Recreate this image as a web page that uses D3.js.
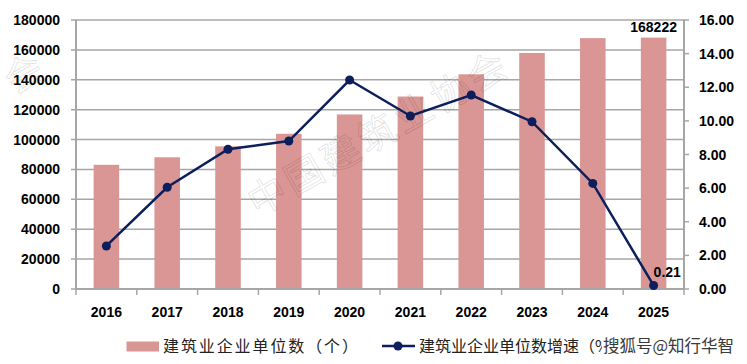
<!DOCTYPE html>
<html><head><meta charset="utf-8">
<script src="https://cdn.jsdelivr.net/npm/d3@7"></script>
<style>
html,body{margin:0;padding:0;background:#fff;}
svg{display:block;}
.num{font-family:"Liberation Sans",Arial,sans-serif;font-weight:bold;font-size:14px;fill:#000;}
.cjk{font-family:"Noto Sans CJK SC",sans-serif;font-size:16px;fill:#222;}
</style></head>
<body>
<svg id="c" width="747" height="364"></svg>
<script>
const years = ["2016","2017","2018","2019","2020","2021","2022","2023","2024","2025"];
const units = [83110, 88140, 95470, 103870, 116780, 128790, 143660, 157950, 167870, 168222];
const growth = [2.56, 6.05, 8.31, 8.80, 12.43, 10.29, 11.54, 9.95, 6.28, 0.21];
const leftTicks = [0,20000,40000,60000,80000,100000,120000,140000,160000,180000];
const rightTicks = [0,2,4,6,8,10,12,14,16];
const barName = "建筑业企业单位数（个）";
const lineName = "建筑业企业单位数增速（%）";
const watermark = "中国建筑业协会";
const sohu = "搜狐号@知行华智";

const svg = d3.select("#c");
const L = 76, R = 684, T = 20, B = 289;
const gridC = "#a6a6a6", barC = "#d99694", lineC = "#0c1f5c";

const x = d3.scaleBand().domain(years).range([L, R]).paddingInner(0.58).paddingOuter(0.29);
const yL = d3.scaleLinear().domain([0, 180000]).range([B, T]);
const yR = d3.scaleLinear().domain([0, 16]).range([B, T]);
const step = x.step();

// gridlines
svg.append("g").selectAll("line").data(leftTicks).join("line")
  .attr("x1", L - 5).attr("x2", R).attr("y1", d => yL(d)).attr("y2", d => yL(d))
  .attr("stroke", gridC).attr("stroke-width", 1.5);

// left axis labels
svg.append("g").selectAll("text").data(leftTicks).join("text")
  .attr("class", "num").attr("text-anchor", "end")
  .attr("x", 60).attr("y", d => yL(d) + 5).text(d => d);

// right axis
svg.append("g").selectAll("line").data(rightTicks).join("line")
  .attr("x1", R).attr("x2", R + 5).attr("y1", d => yR(d)).attr("y2", d => yR(d))
  .attr("stroke", gridC).attr("stroke-width", 1.5);
svg.append("g").selectAll("text").data(rightTicks).join("text")
  .attr("class", "num").attr("text-anchor", "start")
  .attr("x", 699).attr("y", d => yR(d) + 5).text(d => d.toFixed(2));

// bars
svg.append("g").selectAll("rect").data(years).join("rect")
  .attr("x", d => x(d)).attr("width", x.bandwidth())
  .attr("y", (d, i) => yL(units[i])).attr("height", (d, i) => B - yL(units[i]))
  .attr("fill", barC);

// axis lines
svg.append("line").attr("x1", L).attr("x2", L).attr("y1", T).attr("y2", B)
  .attr("stroke", gridC).attr("stroke-width", 2);
svg.append("line").attr("x1", R).attr("x2", R).attr("y1", T).attr("y2", B)
  .attr("stroke", gridC).attr("stroke-width", 2);
svg.append("line").attr("x1", L).attr("x2", R).attr("y1", B).attr("y2", B)
  .attr("stroke", gridC).attr("stroke-width", 2);

// x ticks at band boundaries
const bounds = years.map(d => x(d) - (step - x.bandwidth()) / 2).concat([R]);
svg.append("g").selectAll("line").data(bounds).join("line")
  .attr("x1", d => d).attr("x2", d => d).attr("y1", B).attr("y2", B + 6)
  .attr("stroke", gridC).attr("stroke-width", 1.5);

// x labels
svg.append("g").selectAll("text").data(years).join("text")
  .attr("class", "num").attr("text-anchor", "middle")
  .attr("x", d => x(d) + x.bandwidth() / 2).attr("y", 317).text(d => d);

// line
const cx = d => x(d) + x.bandwidth() / 2;
svg.append("path").datum(years)
  .attr("d", d3.line().x(d => cx(d)).y((d, i) => yR(growth[i])))
  .attr("fill", "none").attr("stroke", lineC).attr("stroke-width", 2.5);
svg.append("g").selectAll("circle").data(years).join("circle")
  .attr("cx", d => cx(d)).attr("cy", (d, i) => yR(growth[i])).attr("r", 4.5)
  .attr("fill", lineC);

// data labels
const last = years.length - 1;
svg.append("text").attr("class", "num").attr("text-anchor", "middle")
  .attr("x", cx(years[last])).attr("y", yL(units[last]) - 6).text(units[last]);
svg.append("text").attr("class", "num").attr("text-anchor", "start")
  .attr("x", cx(years[last])).attr("y", yR(growth[last]) - 8).text(growth[last].toFixed(2));

// legend
svg.append("rect").attr("x", 126.5).attr("y", 341.5).attr("width", 32.5).attr("height", 10).attr("fill", barC);
svg.append("text").attr("class", "cjk").attr("x", 163).attr("y", 352)
  .style("letter-spacing", "1.9px").text(barName);
svg.append("line").attr("x1", 382).attr("x2", 415).attr("y1", 346).attr("y2", 346)
  .attr("stroke", lineC).attr("stroke-width", 2.5);
svg.append("circle").attr("cx", 398).attr("cy", 346).attr("r", 4.5).attr("fill", lineC);
svg.append("text").attr("class", "cjk").attr("x", 419).attr("y", 352).text(lineName);

// sohu watermark (overlaps the end of the legend, as in the reference)
svg.append("rect").attr("x", 602).attr("y", 336).attr("width", 140).attr("height", 20).attr("fill", "#fff");
svg.append("text").attr("x", 603).attr("y", 352)
  .style("font-family", '"Noto Sans CJK SC",sans-serif').style("font-size", "16.5px")
  .attr("fill", "#3a3a3a").text(sohu);

// diagonal watermark
svg.append("text").attr("transform", `translate(379,133) rotate(-29.5)`)
  .attr("text-anchor", "middle").attr("dy", "0.35em")
  .style("font-family", '"Noto Sans CJK SC",sans-serif').style("font-size", "38px")
  .style("letter-spacing", "4px")
  .attr("fill", "none").attr("stroke", "#000").attr("stroke-opacity", 0.12).attr("stroke-width", 1)
  .text(watermark);
// fragment of the neighbouring tile at the left edge
svg.append("text").attr("transform", `translate(24,74) rotate(-29.5)`)
  .attr("text-anchor", "middle").attr("dy", "0.35em")
  .style("font-family", '"Noto Sans CJK SC",sans-serif').style("font-size", "38px")
  .attr("fill", "none").attr("stroke", "#000").attr("stroke-opacity", 0.12).attr("stroke-width", 1)
  .text(watermark.slice(-1));
</script>
</body></html>
